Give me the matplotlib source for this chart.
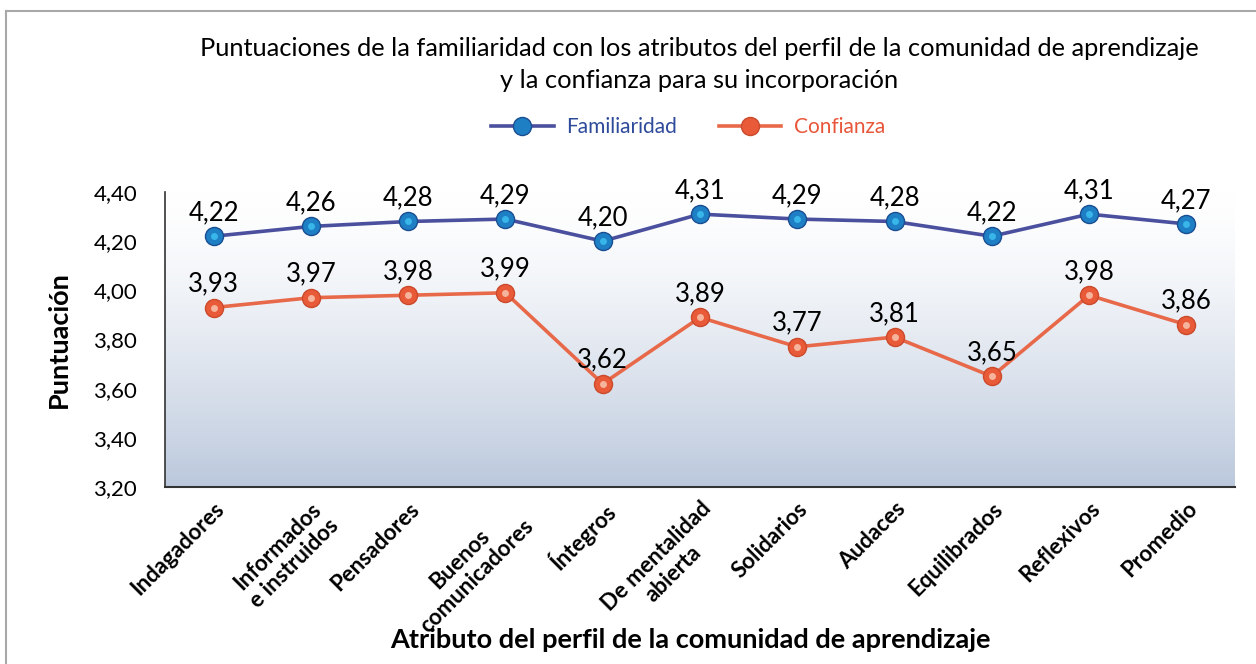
import matplotlib.pyplot as plt
import matplotlib.patches as mpatches
import matplotlib.transforms as mtransforms
import numpy as np

atributos = ['Indagadores', 'Informados\ne instruidos', 'Pensadores', 'Buenos\ncomunicadores',
             'Íntegros', 'De mentalidad\nabierta', 'Solidarios', 'Audaces', 'Equilibrados',
             'Reflexivos', 'Promedio']
familiaridad = [4.22, 4.26, 4.28, 4.29, 4.20, 4.31, 4.29, 4.28, 4.22, 4.31, 4.27]
confianza = [3.93, 3.97, 3.98, 3.99, 3.62, 3.89, 3.77, 3.81, 3.65, 3.98, 3.86]
yticks = [3.20, 3.40, 3.60, 3.80, 4.00, 4.20, 4.40]

plt.rcParams['font.family'] = ['Lato', 'DejaVu Sans']

fig = plt.figure(figsize=(12.56, 6.64), dpi=100)
ax = fig.add_axes([165 / 1256, 1 - 487 / 664, 1070 / 1256, 295 / 664])

# outer frame (only top/left visible in the reference)
fig.patches.append(mpatches.Rectangle((6 / 1256, -0.1), 1.2, 1 - 11 / 664 + 0.1,
                                      transform=fig.transFigure, fill=False,
                                      edgecolor='#A8A8A8', linewidth=1.5))

x = np.arange(len(atributos))
n = len(atributos)

# background gradient white (top) -> light steel blue (bottom)
grad = np.linspace(0, 1, 256) ** 1.4
c_top = np.array([1.0, 1.0, 1.0])
c_bot = np.array([0xBB, 0xC8, 0xDC]) / 255
img = c_top + (c_bot - c_top) * grad[:, None, None]
ax.imshow(img, extent=[-0.5, n - 0.5, 3.2, 4.4], origin='upper', aspect='auto', zorder=0)
ax.set_xlim(-0.5, n - 0.5)
ax.set_ylim(3.2, 4.4)

ax.plot(x, familiaridad, color='#4A4F9E', linewidth=2.6, marker='o', markersize=13,
        markerfacecolor='#1E7FC4', markeredgecolor='#1A4E92', markeredgewidth=1.0,
        label='Familiaridad', zorder=3)
ax.plot(x, familiaridad, linestyle='none', marker='o', markersize=5,
        markerfacecolor='#38B6EA', markeredgecolor='none', zorder=4)
ax.plot(x, confianza, color='#E8694A', linewidth=2.6, marker='o', markersize=13,
        markerfacecolor='#E85A38', markeredgecolor='#CC4A2C', markeredgewidth=1.0,
        label='Confianza', zorder=3)
ax.plot(x, confianza, linestyle='none', marker='o', markersize=5,
        markerfacecolor='#F6B49C', markeredgecolor='none', zorder=4)

for xi, v in zip(x, familiaridad):
    ax.annotate(f'{v:.2f}'.replace('.', ','), (xi, v), xytext=(0, 8),
                textcoords='offset points', ha='center', va='bottom', fontsize=18.5)
for xi, v in zip(x, confianza):
    ax.annotate(f'{v:.2f}'.replace('.', ','), (xi, v), xytext=(0, 8),
                textcoords='offset points', ha='center', va='bottom', fontsize=18.5)

ax.set_yticks(yticks)
ax.set_yticklabels([f'{t:.2f}'.replace('.', ',') for t in yticks], fontsize=16)
ax.set_xticks(x)
ax.set_xticklabels(atributos, rotation=45, ha='right', va='top', rotation_mode='anchor',
                   fontsize=16, fontweight='bold', ma='center')
shift = mtransforms.ScaledTranslation(-7 / 100, 0, fig.dpi_scale_trans)
for lbl in ax.get_xticklabels():
    lbl.set_transform(lbl.get_transform() + shift)
ax.tick_params(axis='y', length=0, pad=20)
ax.tick_params(axis='x', length=0, pad=8)

for s in ['top', 'right']:
    ax.spines[s].set_visible(False)
ax.spines['left'].set_color('#333333')
ax.spines['bottom'].set_color('#333333')
ax.spines['left'].set_linewidth(1.2)
ax.spines['bottom'].set_linewidth(1.5)

ax.set_ylabel('Puntuación', fontsize=19.5, fontweight='bold', labelpad=16)
fig.text(690 / 1256, 1 - 640 / 664, 'Atributo del perfil de la comunidad de aprendizaje',
         ha='center', va='center', fontsize=19.5, fontweight='bold')

fig.text(699 / 1256, 1 - 48 / 664,
         'Puntuaciones de la familiaridad con los atributos del perfil de la comunidad de aprendizaje',
         ha='center', va='center', fontsize=18.3)
fig.text(699 / 1256, 1 - 80 / 664, 'y la confianza para su incorporación',
         ha='center', va='center', fontsize=18.3)

handles, labels = ax.get_legend_handles_labels()
fig.legend(handles, labels, loc='center', bbox_to_anchor=(688 / 1256, 1 - 127 / 664),
           ncol=2, frameon=False, fontsize=15, labelcolor=['#2E4A9A', '#E8563A'],
           handlelength=3, columnspacing=2.0, handletextpad=0.6)

fig.savefig('out.png', dpi=100)
